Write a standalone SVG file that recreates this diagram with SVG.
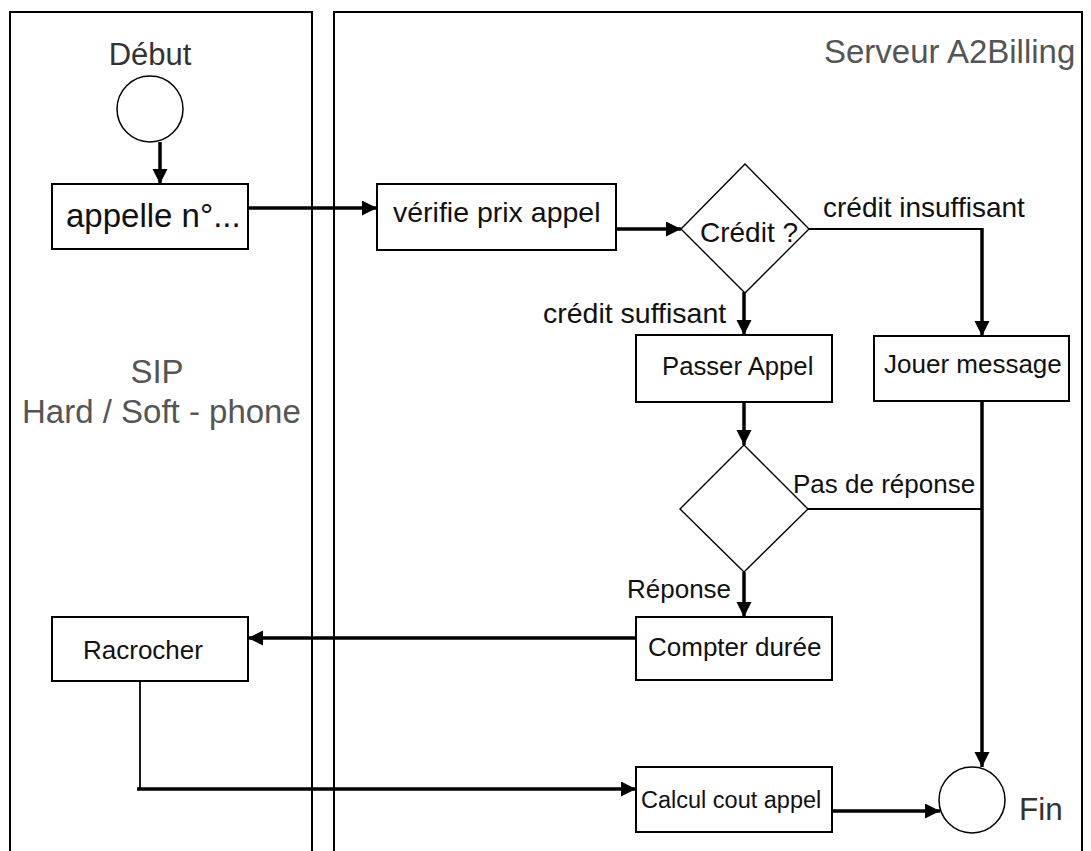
<svg xmlns="http://www.w3.org/2000/svg" width="1091" height="851" viewBox="0 0 1091 851">
  <style>
    text { font-family: "Liberation Sans", Arial, sans-serif; fill: #111; }
    .lane { fill: none; stroke: #000; stroke-width: 2; }
    .box { fill: #fff; stroke: #000; stroke-width: 2; }
    .dia { fill: #fff; stroke: #000; stroke-width: 1.4; }
    .circ { fill: #fff; stroke: #000; stroke-width: 1.5; }
    .title { fill: #555; font-size: 33px; }
    .thick { fill: none; stroke: #000; stroke-width: 3.5; }
    .thin { fill: none; stroke: #000; stroke-width: 1.8; }
  </style>
  <defs>
    <marker id="arr" markerUnits="userSpaceOnUse" markerWidth="16" markerHeight="16" refX="15" refY="7.5" orient="auto">
      <path d="M0,0 L15,7.5 L0,15 z" fill="#000"/>
    </marker>
  </defs>
  <rect width="1091" height="851" fill="#fff"/>

  <g id="lane-sip">
    <rect class="lane" x="10" y="12" width="302" height="860"/>
    <text class="title" x="157" y="383" text-anchor="middle">SIP</text>
    <text class="title" x="22" y="423">Hard / Soft - phone</text>
  </g>
  <g id="lane-serveur">
    <rect class="lane" x="334" y="12" width="748" height="860"/>
    <text class="title" x="824" y="63">Serveur A2Billing</text>
  </g>

  <g id="connectors">
    <path class="thick" d="M160,142 L160,184" marker-end="url(#arr)"/>
    <path class="thick" d="M246,208 L377,208" marker-end="url(#arr)"/>
    <path class="thick" d="M613,229 L681,229" marker-end="url(#arr)"/>
    <path class="thick" d="M744,292 L744,335" marker-end="url(#arr)"/>
    <path class="thin" d="M808,229 L982,229"/>
    <path class="thick" d="M982,228 L982,336" marker-end="url(#arr)"/>
    <path class="thick" d="M744,402 L744,445" marker-end="url(#arr)"/>
    <path class="thick" d="M744,572 L744,617" marker-end="url(#arr)"/>
    <path class="thin" d="M808,509 L982,509"/>
    <path class="thick" d="M982,401 L982,767" marker-end="url(#arr)"/>
    <path class="thick" d="M636,638 L248,638" marker-end="url(#arr)"/>
    <path class="thin" d="M140,681 L140,789"/>
    <path class="thick" d="M137,789 L636,789" marker-end="url(#arr)"/>
    <path class="thick" d="M830,811 L940,811" marker-end="url(#arr)"/>
    <text x="823" y="217" font-size="28">crédit insuffisant</text>
    <text x="543" y="323" font-size="28.5">crédit suffisant</text>
    <text x="793" y="493" font-size="26">Pas de réponse</text>
    <text x="627" y="598" font-size="26">Réponse</text>
  </g>

  <g id="debut">
    <circle class="circ" cx="150" cy="109" r="33"/>
    <text x="150" y="65" font-size="31" text-anchor="middle" style="fill:#333">Début</text>
  </g>
  <g id="appelle">
    <rect class="box" x="52" y="184" width="196" height="65"/>
    <text x="66" y="227" font-size="33">appelle n°...</text>
  </g>
  <g id="verifie">
    <rect class="box" x="377" y="184" width="239" height="66"/>
    <text x="393" y="222" font-size="28.5">vérifie prix appel</text>
  </g>
  <g id="credit">
    <polygon class="dia" points="745,164 809,229 745,293 681,229"/>
    <text x="700" y="242" font-size="28">Crédit ?</text>
  </g>
  <g id="passer">
    <rect class="box" x="636" y="335" width="196" height="67"/>
    <text x="662" y="375" font-size="25.7">Passer Appel</text>
  </g>
  <g id="jouer">
    <rect class="box" x="874" y="336" width="195" height="65"/>
    <text x="884" y="373" font-size="26">Jouer message</text>
  </g>
  <g id="reponse">
    <polygon class="dia" points="744,445 808,509 744,572 680,509"/>
  </g>
  <g id="compter">
    <rect class="box" x="636" y="617" width="196" height="63"/>
    <text x="648" y="656" font-size="26">Compter durée</text>
  </g>
  <g id="racrocher">
    <rect class="box" x="52" y="617" width="196" height="64"/>
    <text x="83" y="659" font-size="26">Racrocher</text>
  </g>
  <g id="calcul">
    <rect class="box" x="636" y="767" width="196" height="65"/>
    <text x="641" y="808" font-size="23.5">Calcul cout appel</text>
  </g>
  <g id="fin">
    <circle class="circ" cx="972" cy="800" r="33"/>
    <text x="1019" y="820" font-size="31.5" style="fill:#333">Fin</text>
  </g>
</svg>
